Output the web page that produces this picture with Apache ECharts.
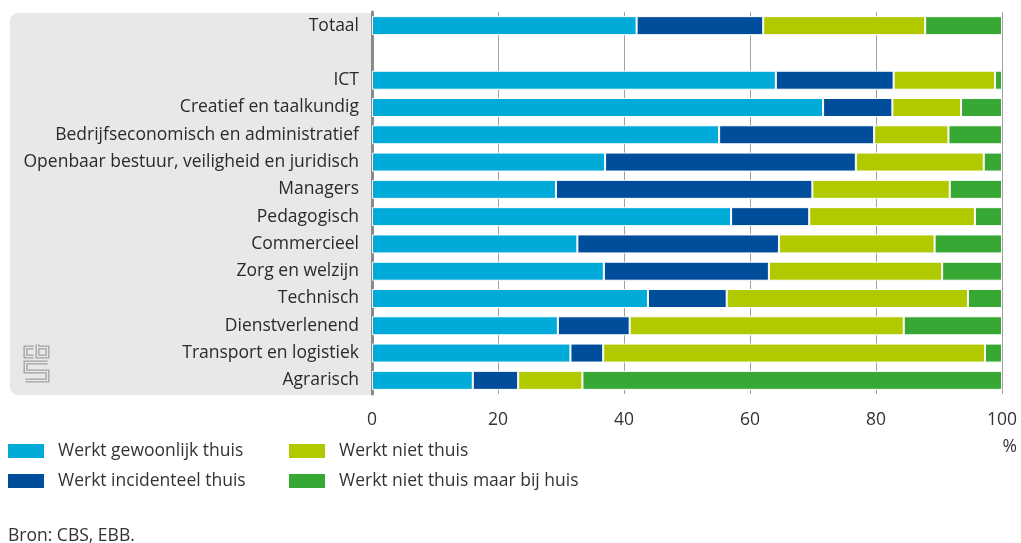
<!DOCTYPE html>
<html>
<head>
<meta charset="utf-8">
<script src="https://cdn.jsdelivr.net/npm/echarts@6/dist/echarts.min.js"></script>
<style>
  html, body { margin: 0; padding: 0; background: #fff; }
  #chart { width: 1021px; height: 543px; }
</style>
</head>
<body>
<div id="chart"></div>
<script>
  // categories (empty row between Totaal and the occupations)
  const categories = ['Totaal', '', 'ICT', 'Creatief en taalkundig', 'Bedrijfseconomisch en administratief',
    'Openbaar bestuur, veiligheid en juridisch', 'Managers', 'Pedagogisch', 'Commercieel',
    'Zorg en welzijn', 'Technisch', 'Dienstverlenend', 'Transport en logistiek', 'Agrarisch']

  const seriesNames = ['Werkt gewoonlijk thuis', 'Werkt incidenteel thuis', 'Werkt niet thuis', 'Werkt niet thuis maar bij huis']

  const gewoonlijk = [42.0, null, 64.1, 71.6, 55.1, 37.0, 29.2, 57.0, 32.6, 36.8, 43.8, 29.5, 31.5, 16.0]
  const incidenteel = [20.1, null, 18.7, 11.0, 24.6, 39.8, 40.7, 12.4, 32.0, 26.2, 12.5, 11.4, 5.2, 7.2]
  const nietThuis = [25.7, null, 16.1, 10.9, 11.8, 20.3, 21.8, 26.3, 24.7, 27.5, 38.3, 43.5, 60.6, 10.2]
  const bijHuis = [12.2, null, 1.1, 6.5, 8.5, 2.9, 8.3, 4.3, 10.7, 9.5, 5.4, 15.6, 2.7, 66.6]

  const xTicks = [0, 20, 40, 60, 80, 100]

  const colors = ['#00aad9', '#004d9b', '#b1ca00', '#37a834']
  const font = '"Open Sans", sans-serif'
  const fs = 17.5

  const chart = echarts.init(document.getElementById('chart'))

  const makeBar = (name, data) => ({
    name: name,
    type: 'bar',
    stack: 'total',
    data: data,
    barWidth: 19,
    itemStyle: { borderColor: '#fff', borderWidth: 1 },
    emphasis: { disabled: true }
  })

  // logo strokes: drawn thick grey then thin panel colour on top -> outlined look
  const logoPaths = [
    [[10, 3], [2, 3], [2, 12], [10, 12]],
    [[14, 0], [14, 12], [24, 12], [24, 3], [14, 3]],
    [[24, 18], [2, 18], [2, 27], [24, 27], [24, 36], [2, 36]]
  ]
  const logoChildren = []
  logoPaths.forEach(p => {
    logoChildren.push({ type: 'polyline', shape: { points: p }, style: { stroke: '#a0a0a0', lineWidth: 4, fill: null } })
  })
  logoPaths.forEach(p => {
    logoChildren.push({ type: 'polyline', shape: { points: p }, style: { stroke: '#e8e8e8', lineWidth: 1.4, fill: null } })
  })

  const option = {
    color: colors,
    animation: false,
    textStyle: { fontFamily: font },
    grid: { left: 372, right: 19, top: 12, bottom: 149, containLabel: false },
    graphic: [
      {
        type: 'rect',
        z: -10,
        shape: { x: 10, y: 13, width: 362, height: 382, r: [8, 0, 0, 8] },
        style: { fill: '#e8e8e8' }
      },
      {
        type: 'group',
        left: 23, top: 342,
        children: logoChildren
      },
      {
        type: 'text',
        right: 4, top: 438,
        style: { text: '%', fontSize: fs, fill: '#333', fontFamily: font }
      },
      {
        type: 'text',
        left: 8, top: 527,
        style: { text: 'Bron: CBS, EBB.', fontSize: fs, fill: '#333', fontFamily: font }
      }
    ],
    legend: [
      {
        orient: 'vertical',
        left: 1, top: 437,
        itemWidth: 38, itemHeight: 16, itemGap: 12,
        icon: 'rect',
        selectedMode: false,
        data: [seriesNames[0], seriesNames[1]],
        textStyle: { fontSize: fs, color: '#333', fontFamily: font, padding: [0, 0, 0, 8] }
      },
      {
        orient: 'vertical',
        left: 282, top: 437,
        itemWidth: 38, itemHeight: 16, itemGap: 12,
        icon: 'rect',
        selectedMode: false,
        data: [seriesNames[2], seriesNames[3]],
        textStyle: { fontSize: fs, color: '#333', fontFamily: font, padding: [0, 0, 0, 8] }
      }
    ],
    xAxis: {
      type: 'value',
      min: xTicks[0],
      max: xTicks[xTicks.length - 1],
      interval: 20,
      axisLine: { show: false },
      axisTick: { show: false },
      axisLabel: { fontSize: fs, color: '#333', margin: 17, fontFamily: font },
      splitLine: { show: true, lineStyle: { color: '#a0a0a0', width: 1 } }
    },
    yAxis: {
      type: 'category',
      inverse: true,
      data: categories,
      axisLine: { show: true, lineStyle: { color: '#8a8a8a', width: 3 } },
      axisTick: { show: false },
      axisLabel: { fontSize: fs, color: '#2a2a2a', margin: 13, fontFamily: font }
    },
    series: [
      makeBar(seriesNames[0], gewoonlijk),
      makeBar(seriesNames[1], incidenteel),
      makeBar(seriesNames[2], nietThuis),
      makeBar(seriesNames[3], bijHuis)
    ]
  }

  chart.setOption(option)
</script>
</body>
</html>
